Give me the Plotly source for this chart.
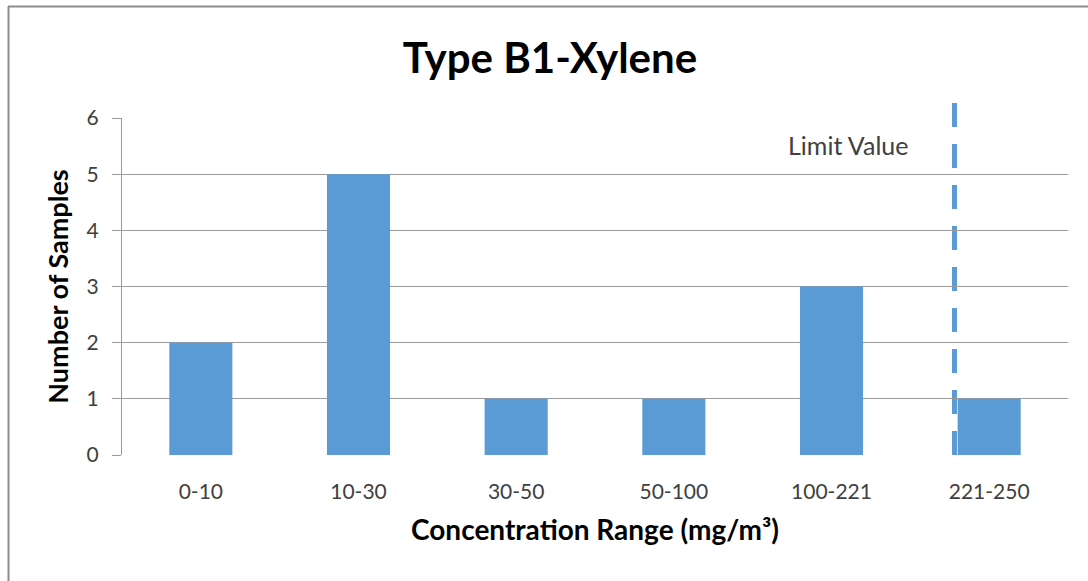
import plotly.graph_objects as go

categories = ["0-10", "10-30", "30-50", "50-100", "100-221", "221-250"]
counts = [2, 5, 1, 1, 3, 1]
y_ticks = [0, 1, 2, 3, 4, 5, 6]
limit_label = "Limit Value"
limit_pos = 4.78  # category-axis position of the limit line

W, H = 1088, 581
L, R, T, B = 122, 20, 118, 126
pw, ph = W - L - R, H - T - B

def px(x):
    return (x - L) / pw

def py(y):
    return (H - B - y) / ph

font = "Lato, 'Open Sans', sans-serif"
bar_color = "#5B9BD5"
grid = "#9a9a9a"

fig = go.Figure()
fig.add_trace(go.Bar(x=categories, y=counts, marker_color=bar_color,
                     marker_line_width=0, width=0.4))

fig.update_layout(
    width=W, height=H,
    margin=dict(l=L, r=R, t=T, b=B),
    paper_bgcolor="white", plot_bgcolor="white",
    showlegend=False,
    font=dict(family=font, color="#404040"),
    title=dict(text="<b>Type B1-Xylene</b>", xref="container", x=550 / W,
               xanchor="center", yref="container", y=1 - 58 / H, yanchor="middle",
               font=dict(size=42, color="#000000", family=font)),
    xaxis=dict(type="category", range=[-0.5, 5.5], showgrid=False,
               showline=False, ticks="", ticklabelstandoff=22,
               tickfont=dict(size=21, color="#404040"),
               title=dict(text="<b>Concentration Range (mg/m³)</b>",
                          font=dict(size=28, color="#000000"), standoff=18)),
    yaxis=dict(range=[0, 6], tickvals=y_ticks, showgrid=True, gridcolor=grid,
               gridwidth=1, showline=True, linecolor=grid, linewidth=1,
               ticks="outside", ticklen=9, tickcolor=grid, zeroline=False,
               ticklabelstandoff=9,
               tickfont=dict(size=21, color="#404040"),
               title=dict(text="<b>Number of Samples</b>",
                          font=dict(size=27, color="#000000"), standoff=10)),
    shapes=[
        dict(type="line", xref="x", yref="paper", x0=limit_pos, x1=limit_pos,
             y0=0, y1=py(103), line=dict(color=bar_color, width=5, dash="24px,17px"),
             layer="below"),
        dict(type="line", xref="paper", yref="paper", x0=px(8), x1=px(W + 5),
             y0=py(6.5), y1=py(6.5), line=dict(color="#8c8c8c", width=2)),
        dict(type="line", xref="paper", yref="paper", x0=px(8.5), x1=px(8.5),
             y0=py(6.5), y1=py(H + 5), line=dict(color="#8c8c8c", width=2)),
    ],
    annotations=[
        dict(text=limit_label, xref="paper", yref="paper", x=px(848), y=py(145),
             xanchor="center", yanchor="middle", showarrow=False,
             font=dict(size=25, color="#404040")),
    ],
)

fig.write_html("out.html")
